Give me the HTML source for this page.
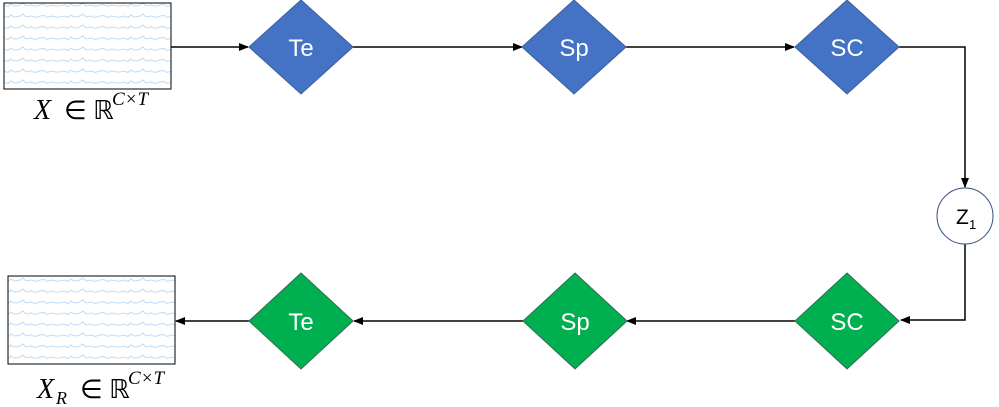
<!DOCTYPE html>
<html><head><meta charset="utf-8"><style>
html,body{margin:0;padding:0;background:#fff;width:999px;height:407px;overflow:hidden}
</style></head><body>
<svg width="999" height="407" viewBox="0 0 999 407" xmlns="http://www.w3.org/2000/svg">
<defs>
<marker id="ah" markerWidth="10" markerHeight="8" refX="9" refY="4" orient="auto" markerUnits="userSpaceOnUse">
<path d="M0,0 L10,4 L0,8 z" fill="#000"/></marker>
<pattern id="wv" x="0" y="0" width="60" height="11" patternUnits="userSpaceOnUse">
<path d="M0,6 L4,5 L8,6.5 L11,4 L14,6 L19,5.5 L23,3 L26,6 L31,5 L35,6.5 L40,5 L44,4.5 L47,6.5 L52,5 L56,6 L60,6" fill="none" stroke="#bcdcf6" stroke-width="1"/>
</pattern>
</defs>
<g font-family="Liberation Sans, sans-serif">
<rect x="4" y="3" width="167" height="86" fill="url(#wv)" stroke="#000" stroke-width="1"/>
<text x="34" y="119" font-family="Liberation Serif, serif" font-style="italic" font-size="28">X</text>
<text x="64" y="119" font-family="Liberation Serif, serif" font-size="26">∈ ℝ</text>
<text x="112" y="105" font-family="Liberation Serif, serif" font-style="italic" font-size="19">C×T</text>
<rect x="8" y="276" width="167" height="88" fill="url(#wv)" stroke="#000" stroke-width="1"/>
<text x="37" y="398" font-family="Liberation Serif, serif" font-style="italic" font-size="28">X</text>
<text x="56" y="404" font-family="Liberation Serif, serif" font-style="italic" font-size="18">R</text>
<text x="80" y="398" font-family="Liberation Serif, serif" font-size="26">∈ ℝ</text>
<text x="128" y="384" font-family="Liberation Serif, serif" font-style="italic" font-size="19">C×T</text>
<g stroke="#000" stroke-width="1.5" fill="none">
<line x1="171" y1="47" x2="248" y2="47" marker-end="url(#ah)"/>
<line x1="353" y1="47" x2="522" y2="47" marker-end="url(#ah)"/>
<line x1="626" y1="47" x2="794" y2="47" marker-end="url(#ah)"/>
<polyline points="899,47 965,47 965,187" marker-end="url(#ah)"/>
<polyline points="965,244 965,320 901,320" marker-end="url(#ah)"/>
<line x1="795" y1="321" x2="627" y2="321" marker-end="url(#ah)"/>
<line x1="523" y1="321" x2="354" y2="321" marker-end="url(#ah)"/>
<line x1="249" y1="321" x2="176" y2="321" marker-end="url(#ah)"/>
</g>
<g fill="#4472c4" stroke="#3a5f9e" stroke-width="1">
<polygon points="301,0 353,47 301,94 249,47"/>
<polygon points="574,0 626,47 574,94 522,47"/>
<polygon points="847,0 899,47 847,94 795,47"/>
</g>
<g fill="#00b050" stroke="#2f6b4a" stroke-width="1">
<polygon points="301,273 353,321 301,369 249,321"/>
<polygon points="575,273 627,321 575,369 523,321"/>
<polygon points="847,273 899,321 847,369 795,321"/>
</g>
<g fill="#fff" font-size="24" text-anchor="middle">
<text x="301" y="56">Te</text>
<text x="574" y="56">Sp</text>
<text x="847" y="56">SC</text>
<text x="301" y="330">Te</text>
<text x="575" y="330">Sp</text>
<text x="847" y="330">SC</text>
</g>
<circle cx="965" cy="216" r="28" fill="#fff" stroke="#2f4f7f" stroke-width="1"/>
<text x="956" y="224" font-size="21">Z</text>
<text x="969" y="229" font-size="13">1</text>
</g>
</svg>
</body></html>
